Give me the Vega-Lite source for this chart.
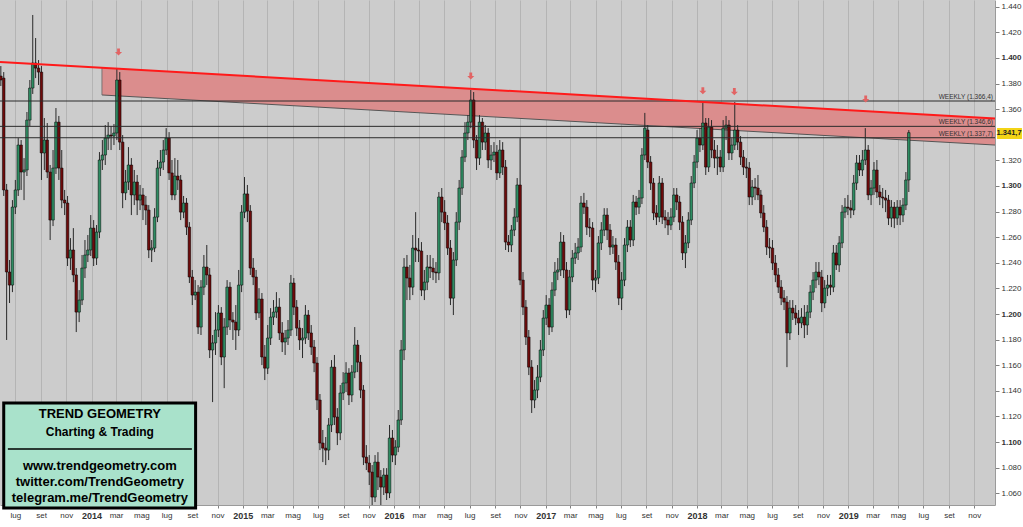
{
"$schema":"https://vega.github.io/schema/vega-lite/v6.json",
"width":995,"height":505,
"autosize":{"type":"none"},
"padding":{"left":0,"top":0,"right":28,"bottom":22},
"background":"#ffffff",
"config":{"view":{"fill":"#cccccc","stroke":null},"font":"Liberation Sans",
 "axis":{"labelFont":"Liberation Sans","labelOverlap":false,"title":null}},
"resolve":{"axis":{"x":"independent","y":"independent"}},
"datasets":{
"one":[{}],
"band":[{"d":"2014-01-26","top":1.3924,"bot":1.3711},{"d":"2019-12-21","top":1.3527,"bot":1.3320}],
"red":[{"d":"2013-05-25","p":1.3969},{"d":"2019-12-21","p":1.3527}],
"levels":[{"v":1.3664,"t":"WEEKLY (1.366,4)"},{"v":1.3466,"t":"WEEKLY (1.346,6)"},{"v":1.3377,"t":"WEEKLY (1.337,7)"}],
"arrows":[{"d":"2014-03-07","p":1.4047},{"d":"2016-07-04","p":1.3859},{"d":"2018-01-15","p":1.3744},{"d":"2018-04-01","p":1.3737},{"d":"2019-02-12","p":1.3680}],
"c":[
{"d":"2013-05-27","o":1.3859,"h":1.3937,"l":1.3781,"c":1.3828},
{"d":"2013-06-03","o":1.3843,"h":1.3890,"l":1.2922,"c":1.2969},
{"d":"2013-06-10","o":1.2969,"h":1.3016,"l":1.1797,"c":1.2328},
{"d":"2013-06-17","o":1.2328,"h":1.2422,"l":1.2086,"c":1.2226},
{"d":"2013-06-24","o":1.2226,"h":1.2890,"l":1.2171,"c":1.2835},
{"d":"2013-07-01","o":1.2835,"h":1.3047,"l":1.2781,"c":1.2969},
{"d":"2013-07-08","o":1.2969,"h":1.3374,"l":1.2922,"c":1.3320},
{"d":"2013-07-15","o":1.3320,"h":1.3359,"l":1.2969,"c":1.3109},
{"d":"2013-07-22","o":1.3109,"h":1.3218,"l":1.2890,"c":1.3125},
{"d":"2013-07-29","o":1.3125,"h":1.3578,"l":1.3078,"c":1.3515},
{"d":"2013-08-05","o":1.3515,"h":1.3828,"l":1.3468,"c":1.3765},
{"d":"2013-08-12","o":1.3765,"h":1.4336,"l":1.3719,"c":1.3961},
{"d":"2013-08-19","o":1.3961,"h":1.4156,"l":1.3843,"c":1.3921},
{"d":"2013-08-26","o":1.3921,"h":1.3984,"l":1.3789,"c":1.3890},
{"d":"2013-09-02","o":1.3890,"h":1.3937,"l":1.3047,"c":1.3258},
{"d":"2013-09-09","o":1.3258,"h":1.3531,"l":1.3125,"c":1.3359},
{"d":"2013-09-16","o":1.3359,"h":1.3492,"l":1.3062,"c":1.3109},
{"d":"2013-09-23","o":1.3109,"h":1.3164,"l":1.2578,"c":1.2734},
{"d":"2013-09-30","o":1.2734,"h":1.3281,"l":1.2687,"c":1.3140},
{"d":"2013-10-07","o":1.3140,"h":1.3609,"l":1.3094,"c":1.3499},
{"d":"2013-10-14","o":1.3499,"h":1.3547,"l":1.3047,"c":1.3140},
{"d":"2013-10-21","o":1.3140,"h":1.3281,"l":1.2827,"c":1.2890},
{"d":"2013-10-28","o":1.2890,"h":1.2969,"l":1.2773,"c":1.2867},
{"d":"2013-11-04","o":1.2867,"h":1.2922,"l":1.2375,"c":1.2437},
{"d":"2013-11-11","o":1.2437,"h":1.2593,"l":1.2344,"c":1.2500},
{"d":"2013-11-18","o":1.2500,"h":1.2671,"l":1.2249,"c":1.2305},
{"d":"2013-11-25","o":1.2305,"h":1.2359,"l":1.1859,"c":1.2015},
{"d":"2013-12-02","o":1.2015,"h":1.2187,"l":1.1937,"c":1.2109},
{"d":"2013-12-09","o":1.2109,"h":1.2461,"l":1.2070,"c":1.2359},
{"d":"2013-12-16","o":1.2359,"h":1.2578,"l":1.2281,"c":1.2461},
{"d":"2013-12-23","o":1.2461,"h":1.2617,"l":1.2406,"c":1.2500},
{"d":"2013-12-30","o":1.2500,"h":1.2773,"l":1.2453,"c":1.2671},
{"d":"2014-01-06","o":1.2671,"h":1.2734,"l":1.2375,"c":1.2437},
{"d":"2014-01-13","o":1.2437,"h":1.2695,"l":1.2383,"c":1.2640},
{"d":"2014-01-20","o":1.2640,"h":1.3265,"l":1.2593,"c":1.3203},
{"d":"2014-01-27","o":1.3203,"h":1.3359,"l":1.3125,"c":1.3242},
{"d":"2014-02-03","o":1.3242,"h":1.3476,"l":1.3164,"c":1.3374},
{"d":"2014-02-10","o":1.3374,"h":1.3499,"l":1.3281,"c":1.3398},
{"d":"2014-02-17","o":1.3398,"h":1.3468,"l":1.3281,"c":1.3390},
{"d":"2014-02-24","o":1.3390,"h":1.3484,"l":1.3320,"c":1.3414},
{"d":"2014-03-03","o":1.3414,"h":1.3921,"l":1.3359,"c":1.3828},
{"d":"2014-03-10","o":1.3828,"h":1.3890,"l":1.3281,"c":1.3343},
{"d":"2014-03-17","o":1.3343,"h":1.3398,"l":1.2827,"c":1.2946},
{"d":"2014-03-24","o":1.2946,"h":1.3125,"l":1.2890,"c":1.3031},
{"d":"2014-03-31","o":1.3031,"h":1.3304,"l":1.2969,"c":1.3164},
{"d":"2014-04-07","o":1.3164,"h":1.3218,"l":1.2773,"c":1.2930},
{"d":"2014-04-14","o":1.2930,"h":1.3125,"l":1.2851,"c":1.3031},
{"d":"2014-04-21","o":1.3031,"h":1.3086,"l":1.2773,"c":1.2890},
{"d":"2014-04-28","o":1.2890,"h":1.3008,"l":1.2812,"c":1.2930},
{"d":"2014-05-05","o":1.2930,"h":1.2984,"l":1.2734,"c":1.2851},
{"d":"2014-05-12","o":1.2851,"h":1.2922,"l":1.2695,"c":1.2812},
{"d":"2014-05-19","o":1.2812,"h":1.2851,"l":1.2437,"c":1.2500},
{"d":"2014-05-26","o":1.2500,"h":1.2578,"l":1.2406,"c":1.2515},
{"d":"2014-06-02","o":1.2515,"h":1.2827,"l":1.2484,"c":1.2757},
{"d":"2014-06-09","o":1.2757,"h":1.3203,"l":1.2718,"c":1.3140},
{"d":"2014-06-16","o":1.3140,"h":1.3281,"l":1.3078,"c":1.3187},
{"d":"2014-06-23","o":1.3187,"h":1.3359,"l":1.3125,"c":1.3281},
{"d":"2014-06-30","o":1.3281,"h":1.3452,"l":1.3242,"c":1.3374},
{"d":"2014-07-07","o":1.3374,"h":1.3421,"l":1.3047,"c":1.3102},
{"d":"2014-07-14","o":1.3102,"h":1.3203,"l":1.2890,"c":1.2930},
{"d":"2014-07-21","o":1.2930,"h":1.3218,"l":1.2890,"c":1.3078},
{"d":"2014-07-28","o":1.3078,"h":1.3203,"l":1.2969,"c":1.3047},
{"d":"2014-08-04","o":1.3047,"h":1.3086,"l":1.2734,"c":1.2796},
{"d":"2014-08-11","o":1.2796,"h":1.2922,"l":1.2749,"c":1.2867},
{"d":"2014-08-18","o":1.2867,"h":1.2906,"l":1.2617,"c":1.2679},
{"d":"2014-08-25","o":1.2679,"h":1.2718,"l":1.2242,"c":1.2289},
{"d":"2014-09-01","o":1.2289,"h":1.2344,"l":1.2070,"c":1.2148},
{"d":"2014-09-08","o":1.2148,"h":1.2265,"l":1.2109,"c":1.2171},
{"d":"2014-09-15","o":1.2171,"h":1.2226,"l":1.1844,"c":1.1898},
{"d":"2014-09-22","o":1.1898,"h":1.2265,"l":1.1836,"c":1.2210},
{"d":"2014-09-29","o":1.2210,"h":1.2461,"l":1.2148,"c":1.2367},
{"d":"2014-10-06","o":1.2367,"h":1.2539,"l":1.2226,"c":1.2305},
{"d":"2014-10-13","o":1.2305,"h":1.2359,"l":1.1656,"c":1.1719},
{"d":"2014-10-20","o":1.1719,"h":1.1836,"l":1.1312,"c":1.1774},
{"d":"2014-10-27","o":1.1774,"h":1.2015,"l":1.1680,"c":1.1875},
{"d":"2014-11-03","o":1.1875,"h":1.2070,"l":1.1820,"c":1.2008},
{"d":"2014-11-10","o":1.2008,"h":1.2054,"l":1.1601,"c":1.1664},
{"d":"2014-11-17","o":1.1664,"h":1.1968,"l":1.1421,"c":1.1898},
{"d":"2014-11-24","o":1.1898,"h":1.2265,"l":1.1836,"c":1.2210},
{"d":"2014-12-01","o":1.2210,"h":1.2249,"l":1.1875,"c":1.1953},
{"d":"2014-12-08","o":1.1953,"h":1.2015,"l":1.1797,"c":1.1937},
{"d":"2014-12-15","o":1.1937,"h":1.2070,"l":1.1719,"c":1.1875},
{"d":"2014-12-22","o":1.1875,"h":1.2344,"l":1.1828,"c":1.2226},
{"d":"2014-12-29","o":1.2226,"h":1.2851,"l":1.2171,"c":1.2796},
{"d":"2015-01-05","o":1.2796,"h":1.3070,"l":1.2749,"c":1.2938},
{"d":"2015-01-12","o":1.2938,"h":1.3008,"l":1.2718,"c":1.2804},
{"d":"2015-01-19","o":1.2804,"h":1.2851,"l":1.2305,"c":1.2359},
{"d":"2015-01-26","o":1.2359,"h":1.2437,"l":1.2226,"c":1.2289},
{"d":"2015-02-02","o":1.2289,"h":1.2344,"l":1.1953,"c":1.2008},
{"d":"2015-02-09","o":1.2008,"h":1.2202,"l":1.1968,"c":1.2117},
{"d":"2015-02-16","o":1.2117,"h":1.2164,"l":1.1601,"c":1.1664},
{"d":"2015-02-23","o":1.1664,"h":1.1758,"l":1.1484,"c":1.1577},
{"d":"2015-03-02","o":1.1577,"h":1.1914,"l":1.1531,"c":1.1812},
{"d":"2015-03-09","o":1.1812,"h":1.2046,"l":1.1758,"c":1.1976},
{"d":"2015-03-16","o":1.1976,"h":1.2109,"l":1.1914,"c":1.2015},
{"d":"2015-03-23","o":1.2015,"h":1.2171,"l":1.1968,"c":1.2054},
{"d":"2015-03-30","o":1.2054,"h":1.2124,"l":1.1797,"c":1.1852},
{"d":"2015-04-06","o":1.1852,"h":1.1937,"l":1.1703,"c":1.1781},
{"d":"2015-04-13","o":1.1781,"h":1.1875,"l":1.1680,"c":1.1812},
{"d":"2015-04-20","o":1.1812,"h":1.1953,"l":1.1758,"c":1.1875},
{"d":"2015-04-27","o":1.1875,"h":1.2305,"l":1.1828,"c":1.2242},
{"d":"2015-05-04","o":1.2242,"h":1.2281,"l":1.1992,"c":1.2054},
{"d":"2015-05-11","o":1.2054,"h":1.2109,"l":1.1828,"c":1.1890},
{"d":"2015-05-18","o":1.1890,"h":1.1953,"l":1.1719,"c":1.1797},
{"d":"2015-05-25","o":1.1797,"h":1.1890,"l":1.1656,"c":1.1812},
{"d":"2015-06-01","o":1.1812,"h":1.2070,"l":1.1766,"c":1.1992},
{"d":"2015-06-08","o":1.1992,"h":1.2031,"l":1.1797,"c":1.1852},
{"d":"2015-06-15","o":1.1852,"h":1.1914,"l":1.1680,"c":1.1742},
{"d":"2015-06-22","o":1.1742,"h":1.1797,"l":1.1546,"c":1.1617},
{"d":"2015-06-29","o":1.1617,"h":1.1664,"l":1.1250,"c":1.1328},
{"d":"2015-07-06","o":1.1328,"h":1.1375,"l":1.0937,"c":1.0992},
{"d":"2015-07-13","o":1.0992,"h":1.1094,"l":1.0843,"c":1.0952},
{"d":"2015-07-20","o":1.0952,"h":1.1039,"l":1.0820,"c":1.0937},
{"d":"2015-07-27","o":1.0937,"h":1.1187,"l":1.0859,"c":1.1133},
{"d":"2015-08-03","o":1.1133,"h":1.1640,"l":1.1078,"c":1.1585},
{"d":"2015-08-10","o":1.1585,"h":1.1680,"l":1.1133,"c":1.1195},
{"d":"2015-08-17","o":1.1195,"h":1.1265,"l":1.0976,"c":1.1071},
{"d":"2015-08-24","o":1.1071,"h":1.1445,"l":1.1015,"c":1.1383},
{"d":"2015-08-31","o":1.1383,"h":1.1546,"l":1.1328,"c":1.1461},
{"d":"2015-09-07","o":1.1461,"h":1.1624,"l":1.1390,"c":1.1539},
{"d":"2015-09-14","o":1.1539,"h":1.1577,"l":1.1289,"c":1.1367},
{"d":"2015-09-21","o":1.1367,"h":1.1601,"l":1.1312,"c":1.1546},
{"d":"2015-09-28","o":1.1546,"h":1.1898,"l":1.1499,"c":1.1758},
{"d":"2015-10-05","o":1.1758,"h":1.1797,"l":1.1546,"c":1.1624},
{"d":"2015-10-12","o":1.1624,"h":1.1680,"l":1.1343,"c":1.1406},
{"d":"2015-10-19","o":1.1406,"h":1.1445,"l":1.0820,"c":1.0882},
{"d":"2015-10-26","o":1.0882,"h":1.0976,"l":1.0781,"c":1.0836},
{"d":"2015-11-02","o":1.0836,"h":1.0898,"l":1.0664,"c":1.0765},
{"d":"2015-11-09","o":1.0765,"h":1.0820,"l":1.0484,"c":1.0570},
{"d":"2015-11-16","o":1.0570,"h":1.0898,"l":1.0531,"c":1.0843},
{"d":"2015-11-23","o":1.0843,"h":1.0921,"l":1.0625,"c":1.0726},
{"d":"2015-11-30","o":1.0726,"h":1.0781,"l":1.0484,"c":1.0648},
{"d":"2015-12-07","o":1.0648,"h":1.0796,"l":1.0586,"c":1.0742},
{"d":"2015-12-14","o":1.0742,"h":1.0796,"l":1.0547,"c":1.0602},
{"d":"2015-12-21","o":1.0602,"h":1.1133,"l":1.0562,"c":1.1031},
{"d":"2015-12-28","o":1.1031,"h":1.1094,"l":1.0843,"c":1.0898},
{"d":"2016-01-04","o":1.0898,"h":1.1015,"l":1.0820,"c":1.0960},
{"d":"2016-01-11","o":1.0960,"h":1.1250,"l":1.0921,"c":1.1172},
{"d":"2016-01-18","o":1.1172,"h":1.1797,"l":1.1133,"c":1.1719},
{"d":"2016-01-25","o":1.1719,"h":1.2437,"l":1.1640,"c":1.2367},
{"d":"2016-02-01","o":1.2367,"h":1.2461,"l":1.2109,"c":1.2281},
{"d":"2016-02-08","o":1.2281,"h":1.2383,"l":1.2109,"c":1.2210},
{"d":"2016-02-15","o":1.2210,"h":1.2617,"l":1.2148,"c":1.2515},
{"d":"2016-02-22","o":1.2515,"h":1.2796,"l":1.2406,"c":1.2500},
{"d":"2016-02-29","o":1.2500,"h":1.2593,"l":1.2406,"c":1.2492},
{"d":"2016-03-07","o":1.2492,"h":1.2562,"l":1.2140,"c":1.2187},
{"d":"2016-03-14","o":1.2187,"h":1.2344,"l":1.2109,"c":1.2249},
{"d":"2016-03-21","o":1.2249,"h":1.2461,"l":1.2187,"c":1.2367},
{"d":"2016-03-28","o":1.2367,"h":1.2461,"l":1.2281,"c":1.2359},
{"d":"2016-04-04","o":1.2359,"h":1.2437,"l":1.2265,"c":1.2328},
{"d":"2016-04-11","o":1.2328,"h":1.2406,"l":1.2242,"c":1.2321},
{"d":"2016-04-18","o":1.2321,"h":1.2953,"l":1.2265,"c":1.2914},
{"d":"2016-04-25","o":1.2914,"h":1.2984,"l":1.2718,"c":1.2796},
{"d":"2016-05-02","o":1.2796,"h":1.2890,"l":1.2656,"c":1.2711},
{"d":"2016-05-09","o":1.2711,"h":1.2773,"l":1.2461,"c":1.2515},
{"d":"2016-05-16","o":1.2515,"h":1.2578,"l":1.2070,"c":1.2124},
{"d":"2016-05-23","o":1.2124,"h":1.2484,"l":1.1992,"c":1.2422},
{"d":"2016-05-30","o":1.2422,"h":1.2796,"l":1.2375,"c":1.2718},
{"d":"2016-06-06","o":1.2718,"h":1.3047,"l":1.2656,"c":1.2984},
{"d":"2016-06-13","o":1.2984,"h":1.3281,"l":1.2930,"c":1.3226},
{"d":"2016-06-20","o":1.3226,"h":1.3499,"l":1.3187,"c":1.3414},
{"d":"2016-06-27","o":1.3414,"h":1.3554,"l":1.3359,"c":1.3499},
{"d":"2016-07-04","o":1.3499,"h":1.3750,"l":1.3452,"c":1.3672},
{"d":"2016-07-11","o":1.3672,"h":1.3734,"l":1.3296,"c":1.3359},
{"d":"2016-07-18","o":1.3359,"h":1.3398,"l":1.3125,"c":1.3218},
{"d":"2016-07-25","o":1.3218,"h":1.3554,"l":1.3164,"c":1.3499},
{"d":"2016-08-01","o":1.3499,"h":1.3531,"l":1.3281,"c":1.3343},
{"d":"2016-08-08","o":1.3343,"h":1.3476,"l":1.3281,"c":1.3414},
{"d":"2016-08-15","o":1.3414,"h":1.3452,"l":1.3140,"c":1.3203},
{"d":"2016-08-22","o":1.3203,"h":1.3320,"l":1.3125,"c":1.3242},
{"d":"2016-08-29","o":1.3242,"h":1.3343,"l":1.3187,"c":1.3265},
{"d":"2016-09-05","o":1.3265,"h":1.3320,"l":1.3047,"c":1.3102},
{"d":"2016-09-12","o":1.3102,"h":1.3359,"l":1.3062,"c":1.3281},
{"d":"2016-09-19","o":1.3281,"h":1.3343,"l":1.3086,"c":1.3148},
{"d":"2016-09-26","o":1.3148,"h":1.3203,"l":1.2500,"c":1.2562},
{"d":"2016-10-03","o":1.2562,"h":1.2617,"l":1.2484,"c":1.2539},
{"d":"2016-10-10","o":1.2539,"h":1.2695,"l":1.2484,"c":1.2656},
{"d":"2016-10-17","o":1.2656,"h":1.2827,"l":1.2609,"c":1.2757},
{"d":"2016-10-24","o":1.2757,"h":1.3062,"l":1.2718,"c":1.3008},
{"d":"2016-10-31","o":1.3008,"h":1.3374,"l":1.2226,"c":1.2265},
{"d":"2016-11-07","o":1.2265,"h":1.2328,"l":1.1992,"c":1.2054},
{"d":"2016-11-14","o":1.2054,"h":1.2109,"l":1.1758,"c":1.1820},
{"d":"2016-11-21","o":1.1820,"h":1.1875,"l":1.1523,"c":1.1585},
{"d":"2016-11-28","o":1.1585,"h":1.1640,"l":1.1227,"c":1.1328},
{"d":"2016-12-05","o":1.1328,"h":1.1484,"l":1.1265,"c":1.1406},
{"d":"2016-12-12","o":1.1406,"h":1.1601,"l":1.1343,"c":1.1507},
{"d":"2016-12-19","o":1.1507,"h":1.1797,"l":1.1468,"c":1.1719},
{"d":"2016-12-26","o":1.1719,"h":1.2031,"l":1.1672,"c":1.1968},
{"d":"2017-01-02","o":1.1968,"h":1.2148,"l":1.1914,"c":1.2070},
{"d":"2017-01-09","o":1.2070,"h":1.2124,"l":1.1836,"c":1.1898},
{"d":"2017-01-16","o":1.1898,"h":1.2249,"l":1.1859,"c":1.2187},
{"d":"2017-01-23","o":1.2187,"h":1.2406,"l":1.2140,"c":1.2328},
{"d":"2017-01-30","o":1.2328,"h":1.2437,"l":1.2265,"c":1.2344},
{"d":"2017-02-06","o":1.2344,"h":1.2640,"l":1.2297,"c":1.2562},
{"d":"2017-02-13","o":1.2562,"h":1.2617,"l":1.2281,"c":1.2344},
{"d":"2017-02-20","o":1.2344,"h":1.2406,"l":1.1968,"c":1.2031},
{"d":"2017-02-27","o":1.2031,"h":1.2344,"l":1.1992,"c":1.2289},
{"d":"2017-03-06","o":1.2289,"h":1.2500,"l":1.2249,"c":1.2437},
{"d":"2017-03-13","o":1.2437,"h":1.2555,"l":1.2391,"c":1.2477},
{"d":"2017-03-20","o":1.2477,"h":1.2593,"l":1.2422,"c":1.2523},
{"d":"2017-03-27","o":1.2523,"h":1.2922,"l":1.2484,"c":1.2867},
{"d":"2017-04-03","o":1.2867,"h":1.2946,"l":1.2781,"c":1.2835},
{"d":"2017-04-10","o":1.2835,"h":1.2890,"l":1.2617,"c":1.2679},
{"d":"2017-04-17","o":1.2679,"h":1.2749,"l":1.2601,"c":1.2672},
{"d":"2017-04-24","o":1.2672,"h":1.2718,"l":1.2187,"c":1.2265},
{"d":"2017-05-01","o":1.2265,"h":1.2344,"l":1.2171,"c":1.2281},
{"d":"2017-05-08","o":1.2281,"h":1.2609,"l":1.2234,"c":1.2555},
{"d":"2017-05-15","o":1.2555,"h":1.2718,"l":1.2500,"c":1.2656},
{"d":"2017-05-22","o":1.2656,"h":1.2827,"l":1.2609,"c":1.2773},
{"d":"2017-05-29","o":1.2773,"h":1.2827,"l":1.2578,"c":1.2656},
{"d":"2017-06-05","o":1.2656,"h":1.2703,"l":1.2461,"c":1.2523},
{"d":"2017-06-12","o":1.2523,"h":1.2609,"l":1.2469,"c":1.2539},
{"d":"2017-06-19","o":1.2539,"h":1.2593,"l":1.2344,"c":1.2406},
{"d":"2017-06-26","o":1.2406,"h":1.2461,"l":1.2070,"c":1.2124},
{"d":"2017-07-03","o":1.2124,"h":1.2328,"l":1.2031,"c":1.2265},
{"d":"2017-07-10","o":1.2265,"h":1.2593,"l":1.2218,"c":1.2539},
{"d":"2017-07-17","o":1.2539,"h":1.2734,"l":1.2484,"c":1.2679},
{"d":"2017-07-24","o":1.2679,"h":1.2734,"l":1.2523,"c":1.2578},
{"d":"2017-07-31","o":1.2578,"h":1.2930,"l":1.2531,"c":1.2875},
{"d":"2017-08-07","o":1.2875,"h":1.2922,"l":1.2773,"c":1.2835},
{"d":"2017-08-14","o":1.2835,"h":1.2969,"l":1.2781,"c":1.2906},
{"d":"2017-08-21","o":1.2906,"h":1.3296,"l":1.2859,"c":1.3242},
{"d":"2017-08-28","o":1.3242,"h":1.3571,"l":1.3203,"c":1.3452},
{"d":"2017-09-04","o":1.3437,"h":1.3476,"l":1.3140,"c":1.3187},
{"d":"2017-09-11","o":1.3187,"h":1.3234,"l":1.2969,"c":1.3023},
{"d":"2017-09-18","o":1.3023,"h":1.3062,"l":1.2734,"c":1.2789},
{"d":"2017-09-25","o":1.2789,"h":1.2851,"l":1.2695,"c":1.2757},
{"d":"2017-10-02","o":1.2757,"h":1.3078,"l":1.2718,"c":1.3023},
{"d":"2017-10-09","o":1.3023,"h":1.3062,"l":1.2703,"c":1.2757},
{"d":"2017-10-16","o":1.2757,"h":1.2812,"l":1.2671,"c":1.2734},
{"d":"2017-10-23","o":1.2734,"h":1.2796,"l":1.2617,"c":1.2695},
{"d":"2017-10-30","o":1.2695,"h":1.2827,"l":1.2656,"c":1.2757},
{"d":"2017-11-06","o":1.2757,"h":1.2984,"l":1.2718,"c":1.2930},
{"d":"2017-11-13","o":1.2930,"h":1.2984,"l":1.2812,"c":1.2875},
{"d":"2017-11-20","o":1.2875,"h":1.2922,"l":1.2656,"c":1.2718},
{"d":"2017-11-27","o":1.2718,"h":1.2765,"l":1.2422,"c":1.2477},
{"d":"2017-12-04","o":1.2477,"h":1.2617,"l":1.2359,"c":1.2555},
{"d":"2017-12-11","o":1.2555,"h":1.2796,"l":1.2515,"c":1.2734},
{"d":"2017-12-18","o":1.2734,"h":1.3078,"l":1.2695,"c":1.3023},
{"d":"2017-12-25","o":1.3023,"h":1.3242,"l":1.2984,"c":1.3187},
{"d":"2018-01-01","o":1.3187,"h":1.3437,"l":1.3140,"c":1.3374},
{"d":"2018-01-08","o":1.3374,"h":1.3452,"l":1.3265,"c":1.3320},
{"d":"2018-01-15","o":1.3320,"h":1.3649,"l":1.3281,"c":1.3492},
{"d":"2018-01-22","o":1.3492,"h":1.3531,"l":1.3086,"c":1.3148},
{"d":"2018-01-29","o":1.3148,"h":1.3531,"l":1.3109,"c":1.3460},
{"d":"2018-02-05","o":1.3460,"h":1.3515,"l":1.3218,"c":1.3281},
{"d":"2018-02-12","o":1.3281,"h":1.3359,"l":1.3140,"c":1.3218},
{"d":"2018-02-19","o":1.3218,"h":1.3320,"l":1.3086,"c":1.3226},
{"d":"2018-02-26","o":1.3226,"h":1.3281,"l":1.3109,"c":1.3148},
{"d":"2018-03-05","o":1.3148,"h":1.3515,"l":1.3109,"c":1.3452},
{"d":"2018-03-12","o":1.3452,"h":1.3547,"l":1.3359,"c":1.3476},
{"d":"2018-03-19","o":1.3476,"h":1.3515,"l":1.3203,"c":1.3258},
{"d":"2018-03-26","o":1.3258,"h":1.3374,"l":1.3203,"c":1.3320},
{"d":"2018-04-02","o":1.3320,"h":1.3656,"l":1.3281,"c":1.3437},
{"d":"2018-04-09","o":1.3437,"h":1.3476,"l":1.3281,"c":1.3343},
{"d":"2018-04-16","o":1.3343,"h":1.3390,"l":1.3164,"c":1.3226},
{"d":"2018-04-23","o":1.3226,"h":1.3281,"l":1.3086,"c":1.3148},
{"d":"2018-04-30","o":1.3148,"h":1.3218,"l":1.3062,"c":1.3140},
{"d":"2018-05-07","o":1.3140,"h":1.3187,"l":1.2851,"c":1.2914},
{"d":"2018-05-14","o":1.2914,"h":1.3047,"l":1.2851,"c":1.2992},
{"d":"2018-05-21","o":1.2992,"h":1.3062,"l":1.2890,"c":1.2984},
{"d":"2018-05-28","o":1.2984,"h":1.3086,"l":1.2890,"c":1.2930},
{"d":"2018-06-04","o":1.2930,"h":1.2969,"l":1.2749,"c":1.2789},
{"d":"2018-06-11","o":1.2789,"h":1.2851,"l":1.2640,"c":1.2679},
{"d":"2018-06-18","o":1.2679,"h":1.2734,"l":1.2461,"c":1.2523},
{"d":"2018-06-25","o":1.2523,"h":1.2593,"l":1.2437,"c":1.2515},
{"d":"2018-07-02","o":1.2515,"h":1.2578,"l":1.2344,"c":1.2398},
{"d":"2018-07-09","o":1.2398,"h":1.2461,"l":1.2249,"c":1.2305},
{"d":"2018-07-16","o":1.2305,"h":1.2359,"l":1.2164,"c":1.2210},
{"d":"2018-07-23","o":1.2210,"h":1.2265,"l":1.2070,"c":1.2124},
{"d":"2018-07-30","o":1.2124,"h":1.2187,"l":1.2031,"c":1.2093},
{"d":"2018-08-06","o":1.2093,"h":1.2140,"l":1.1585,"c":1.1852},
{"d":"2018-08-13","o":1.1852,"h":1.2109,"l":1.1797,"c":1.2046},
{"d":"2018-08-20","o":1.2046,"h":1.2109,"l":1.1953,"c":1.2008},
{"d":"2018-08-27","o":1.2008,"h":1.2070,"l":1.1914,"c":1.1968},
{"d":"2018-09-03","o":1.1968,"h":1.2031,"l":1.1836,"c":1.1930},
{"d":"2018-09-10","o":1.1930,"h":1.2046,"l":1.1890,"c":1.1976},
{"d":"2018-09-17","o":1.1976,"h":1.2070,"l":1.1812,"c":1.1914},
{"d":"2018-09-24","o":1.1914,"h":1.2070,"l":1.1836,"c":1.2015},
{"d":"2018-10-01","o":1.2015,"h":1.2226,"l":1.1968,"c":1.2171},
{"d":"2018-10-08","o":1.2171,"h":1.2328,"l":1.2109,"c":1.2265},
{"d":"2018-10-15","o":1.2265,"h":1.2406,"l":1.2202,"c":1.2328},
{"d":"2018-10-22","o":1.2328,"h":1.2406,"l":1.2226,"c":1.2289},
{"d":"2018-10-29","o":1.2289,"h":1.2344,"l":1.2015,"c":1.2086},
{"d":"2018-11-05","o":1.2086,"h":1.2265,"l":1.2046,"c":1.2202},
{"d":"2018-11-12","o":1.2202,"h":1.2305,"l":1.2140,"c":1.2226},
{"d":"2018-11-19","o":1.2226,"h":1.2305,"l":1.2148,"c":1.2210},
{"d":"2018-11-26","o":1.2210,"h":1.2539,"l":1.2171,"c":1.2477},
{"d":"2018-12-03","o":1.2477,"h":1.2539,"l":1.2344,"c":1.2383},
{"d":"2018-12-10","o":1.2383,"h":1.2609,"l":1.2328,"c":1.2555},
{"d":"2018-12-17","o":1.2555,"h":1.2851,"l":1.2515,"c":1.2796},
{"d":"2018-12-24","o":1.2796,"h":1.2906,"l":1.2749,"c":1.2835},
{"d":"2018-12-31","o":1.2835,"h":1.2930,"l":1.2773,"c":1.2827},
{"d":"2019-01-07","o":1.2827,"h":1.2890,"l":1.2749,"c":1.2812},
{"d":"2019-01-14","o":1.2812,"h":1.3086,"l":1.2773,"c":1.3023},
{"d":"2019-01-21","o":1.3023,"h":1.3242,"l":1.2969,"c":1.3180},
{"d":"2019-01-28","o":1.3180,"h":1.3242,"l":1.3078,"c":1.3125},
{"d":"2019-02-04","o":1.3125,"h":1.3281,"l":1.3078,"c":1.3203},
{"d":"2019-02-11","o":1.3203,"h":1.3452,"l":1.3164,"c":1.3281},
{"d":"2019-02-18","o":1.3281,"h":1.3320,"l":1.2890,"c":1.2930},
{"d":"2019-02-25","o":1.2930,"h":1.3047,"l":1.2851,"c":1.2984},
{"d":"2019-03-04","o":1.2984,"h":1.3187,"l":1.2930,"c":1.3125},
{"d":"2019-03-11","o":1.3125,"h":1.3203,"l":1.2906,"c":1.2953},
{"d":"2019-03-18","o":1.2953,"h":1.3008,"l":1.2851,"c":1.2914},
{"d":"2019-03-25","o":1.2914,"h":1.2984,"l":1.2827,"c":1.2906},
{"d":"2019-04-01","o":1.2906,"h":1.2969,"l":1.2796,"c":1.2890},
{"d":"2019-04-08","o":1.2890,"h":1.2930,"l":1.2695,"c":1.2749},
{"d":"2019-04-15","o":1.2749,"h":1.2890,"l":1.2679,"c":1.2835},
{"d":"2019-04-22","o":1.2835,"h":1.2875,"l":1.2671,"c":1.2749},
{"d":"2019-04-29","o":1.2749,"h":1.2890,"l":1.2695,"c":1.2835},
{"d":"2019-05-06","o":1.2835,"h":1.2890,"l":1.2695,"c":1.2773},
{"d":"2019-05-13","o":1.2773,"h":1.2906,"l":1.2718,"c":1.2851},
{"d":"2019-05-20","o":1.2851,"h":1.3109,"l":1.2812,"c":1.3047},
{"d":"2019-05-27","o":1.3047,"h":1.3437,"l":1.2953,"c":1.3417}
]},
"layer":[
{"data":{"name":"band"},"mark":{"type":"area","color":"#db8d8d","opacity":1},
 "encoding":{
  "x":{"field":"d","type":"temporal","title":null,"scale":{"domain":[{"year":2013,"month":5,"date":25},{"year":2019,"month":12,"date":21}],"nice":false,"padding":0},
   "axis":{"orient":"bottom","grid":true,"gridColor":"#b4b4b4","gridWidth":1,"tickCount":{"interval":"month","step":2},
    "labelExpr":"month(datum.value) == 0 ? timeFormat(datum.value, '%Y') : ['gen','feb','mar','apr','mag','giu','lug','ago','set','ott','nov','dic'][month(datum.value)]",
    "labelFontSize":{"condition":{"test":"month(datum.value) == 0","value":9},"value":8},
    "labelFontWeight":{"condition":{"test":"month(datum.value) == 0","value":"bold"},"value":"normal"},
    "labelColor":"#333333","domainColor":"#9a9a9a","tickColor":"#808080","tickSize":3,"labelPadding":3,"labelFlush":false,"labelOverlap":false}},
  "y":{"field":"top","type":"quantitative","title":null,"scale":{"domain":[1.0508,1.4453],"zero":false,"nice":false,"padding":0},
   "axis":{"orient":"right","grid":false,"values":[1.06,1.08,1.1,1.12,1.14,1.16,1.18,1.2,1.22,1.24,1.26,1.28,1.3,1.32,1.36,1.38,1.4,1.42,1.44],
    "format":".3f","labelFontSize":8,"labelColor":"#333333","labelOverlap":false,
    "labelFontWeight":{"condition":{"test":"abs(datum.value*10 - round(datum.value*10)) < 0.001","value":"bold"},"value":"normal"},
    "domainColor":"#9a9a9a","tickColor":"#808080","tickSize":4,"labelPadding":2}},
  "y2":{"field":"bot"}}},
{"data":{"name":"band"},"mark":{"type":"line","color":"#555555","strokeWidth":1},
 "encoding":{"x":{"field":"d","type":"temporal","axis":null},"y":{"field":"bot","type":"quantitative","axis":null}}},
{"data":{"name":"one"},"mark":{"type":"rule","color":"#666666","strokeWidth":0.8},
 "encoding":{"x":{"datum":{"year":2014,"month":1,"date":26},"type":"temporal","axis":null},"y":{"datum":1.3711,"type":"quantitative","axis":null},"y2":{"datum":1.3924}}},
{"data":{"name":"c"},"mark":{"type":"rule","color":"#2a2a2a","strokeWidth":1,"clip":true},
 "encoding":{"x":{"field":"d","type":"temporal","axis":null},"y":{"field":"l","type":"quantitative","axis":null},"y2":{"field":"h"}}},
{"data":{"name":"c"},"mark":{"type":"bar","width":2.6,"stroke":"#000000","strokeWidth":0.5,"clip":true},
 "encoding":{"x":{"field":"d","type":"temporal","axis":null},"y":{"field":"o","type":"quantitative","axis":null},"y2":{"field":"c"},
  "color":{"condition":{"test":"datum.c >= datum.o","value":"#2e8c62"},"value":"#6e0b0b"}}},
{"data":{"name":"levels"},"mark":{"type":"rule","color":"#2b2b2b","strokeWidth":1},
 "encoding":{"y":{"field":"v","type":"quantitative","axis":null}}},
{"data":{"name":"levels"},"mark":{"type":"text","align":"right","baseline":"bottom","dx":-2,"dy":-1,"fontSize":6.5,"color":"#333333","font":"Liberation Sans"},
 "encoding":{"x":{"datum":{"year":2019,"month":12,"date":21},"type":"temporal","axis":null},"y":{"field":"v","type":"quantitative","axis":null},"text":{"field":"t"}}},
{"data":{"name":"red"},"mark":{"type":"line","color":"#ff1a1a","strokeWidth":2},
 "encoding":{"x":{"field":"d","type":"temporal","axis":null},"y":{"field":"p","type":"quantitative","axis":null}}},
{"data":{"name":"arrows"},"mark":{"type":"point","shape":"M-0.4,-1L0.4,-1L0.4,0L1,0L0,1L-1,0L-0.4,0Z","size":50,"filled":true,"color":"#e26464","opacity":1},
 "encoding":{"x":{"field":"d","type":"temporal","axis":null},"y":{"field":"p","type":"quantitative","axis":null}}},
{"data":{"name":"one"},"mark":{"type":"rect","fill":"#a9e2cb","stroke":"#000000","strokeWidth":3,"clip":false},
 "encoding":{"x":{"datum":{"year":2013,"month":6,"date":3},"type":"temporal","axis":null},"x2":{"datum":{"year":2014,"month":9,"date":9}},
  "y":{"datum":1.1305,"type":"quantitative","axis":null},"y2":{"datum":1.0484}}},
{"data":{"name":"one"},"mark":{"type":"rule","color":"#000000","strokeWidth":1.5},
 "encoding":{"x":{"datum":{"year":2013,"month":6,"date":13},"type":"temporal","axis":null},"x2":{"datum":{"year":2014,"month":8,"date":31}},"y":{"datum":1.0945,"type":"quantitative","axis":null}}},
{"data":{"name":"one"},"mark":{"type":"text","text":"TREND GEOMETRY","fontSize":13,"fontWeight":"bold","color":"#000000","align":"center","baseline":"middle","font":"Liberation Sans"},
 "encoding":{"x":{"datum":{"year":2014,"month":1,"date":21},"type":"temporal","axis":null},"y":{"datum":1.1219,"type":"quantitative","axis":null}}},
{"data":{"name":"one"},"mark":{"type":"text","text":"Charting & Trading","fontSize":12,"fontWeight":"bold","color":"#000000","align":"center","baseline":"middle","font":"Liberation Sans"},
 "encoding":{"x":{"datum":{"year":2014,"month":1,"date":21},"type":"temporal","axis":null},"y":{"datum":1.1078,"type":"quantitative","axis":null}}},
{"data":{"name":"one"},"mark":{"type":"text","text":"www.trendgeometry.com","fontSize":13,"fontWeight":"bold","color":"#000000","align":"center","baseline":"middle","font":"Liberation Sans"},
 "encoding":{"x":{"datum":{"year":2014,"month":1,"date":21},"type":"temporal","axis":null},"y":{"datum":1.0812,"type":"quantitative","axis":null}}},
{"data":{"name":"one"},"mark":{"type":"text","text":"twitter.com/TrendGeometry","fontSize":13,"fontWeight":"bold","color":"#000000","align":"center","baseline":"middle","font":"Liberation Sans"},
 "encoding":{"x":{"datum":{"year":2014,"month":1,"date":21},"type":"temporal","axis":null},"y":{"datum":1.0687,"type":"quantitative","axis":null}}},
{"data":{"name":"one"},"mark":{"type":"text","text":"telegram.me/TrendGeometry","fontSize":13,"fontWeight":"bold","color":"#000000","align":"center","baseline":"middle","font":"Liberation Sans"},
 "encoding":{"x":{"datum":{"year":2014,"month":1,"date":21},"type":"temporal","axis":null},"y":{"datum":1.0562,"type":"quantitative","axis":null}}},
{"data":{"name":"one"},"mark":{"type":"rect","fill":"#f3d417","clip":false},
 "encoding":{"x":{"datum":{"year":2019,"month":12,"date":26},"type":"temporal","axis":null},"x2":{"datum":{"year":2020,"month":2,"date":24}},
  "y":{"datum":1.3453,"type":"quantitative","axis":null},"y2":{"datum":1.3367}}},
{"data":{"name":"one"},"mark":{"type":"text","text":"1.341,7","fontSize":7.5,"fontWeight":"bold","color":"#222222","align":"center","baseline":"middle","clip":false,"font":"Liberation Sans"},
 "encoding":{"x":{"datum":{"year":2020,"month":1,"date":24},"type":"temporal","axis":null},"y":{"datum":1.3417,"type":"quantitative","axis":null}}}
]
}
